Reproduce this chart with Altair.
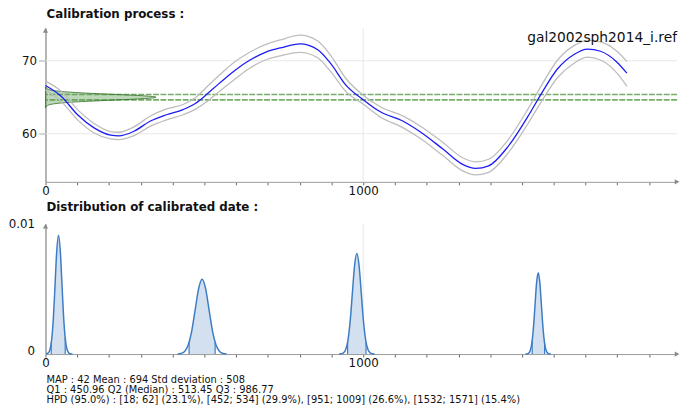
import altair as alt
import pandas as pd

FONT = "DejaVu Sans"

# ---------------- data ----------------
x_ticks = [0, 100, 200, 300, 400, 500, 600, 700, 800, 900, 1000,
           1100, 1200, 1300, 1400, 1500, 1600, 1700, 1800, 1900]
x_domain = [0, 1988]
top_y_domain = [53.4, 74.5]
top_y_ticks = [60, 70]
top_grid_y = [60, 70]
grid_x = [1000]
bottom_y_domain = [0, 0.0103]
bottom_y_ticks = [0, 0.01]

# calibration curve (year, mean, upper, lower)
years = [0, 50, 101, 153, 205, 230, 277, 329, 381, 433, 474, 505, 547, 588, 640,
         692, 743, 801, 857, 898, 945, 1002, 1054, 1126, 1178, 1251, 1313, 1354,
         1395, 1457, 1519, 1561, 1612, 1665, 1706, 1747, 1799, 1830]
curve_mean = [66.6, 65.1, 62.6, 60.8, 59.8, 59.7, 60.3, 61.7, 62.6, 63.3, 64.2, 65.3,
              66.9, 68.4, 70.0, 71.15, 71.8, 72.3, 71.5, 69.6, 66.7, 64.6, 63.0, 61.7,
              60.3, 57.9, 55.8, 55.25, 55.6, 58.3, 62.4, 65.5, 68.9, 70.9, 71.6, 71.3,
              69.8, 68.3]
curve_upper = [67.2, 65.8, 63.3, 61.4, 60.3, 60.2, 60.9, 62.4, 63.4, 64.0, 65.0, 66.3,
               68.0, 69.6, 71.1, 72.2, 72.9, 73.5, 72.7, 70.7, 67.6, 65.2, 63.7, 62.4,
               61.1, 58.8, 56.7, 56.15, 56.5, 59.2, 63.4, 66.6, 70.1, 72.1, 72.8, 72.6,
               71.3, 69.9]
curve_lower = [66.0, 64.4, 61.9, 60.1, 59.3, 59.2, 59.7, 61.0, 61.9, 62.6, 63.4, 64.3,
               65.8, 67.2, 68.9, 70.1, 70.7, 71.15, 70.4, 68.5, 65.8, 64.0, 62.3, 60.8,
               59.4, 57.0, 54.9, 54.35, 54.7, 57.4, 61.4, 64.4, 67.7, 69.7, 70.5, 70.1,
               68.3, 66.5]

# measured reference value (sideways density) and its +/- band
ref_levels = [63.6, 63.8, 64.0, 64.2, 64.4, 64.6, 64.8, 64.9, 65.0, 65.1, 65.2,
              65.4, 65.6, 65.8, 66.0, 66.2, 66.4]
ref_density = [1, 4, 15, 47, 113, 211, 307, 337, 348, 337, 307, 211, 113, 47, 15, 4, 1]
ref_band = [65.38, 64.64]
ref_name = "gal2002sph2014_i.ref"

# calibrated date distribution, four peaks
p1_x = [2, 10, 15, 20, 25, 30, 35, 41, 47, 52, 57, 62, 67, 72, 77, 85]
p1_d = [0.0, 0.00012, 0.00044, 0.00127, 0.00294, 0.00543, 0.00798, 0.0094, 0.00798,
        0.00543, 0.00294, 0.00127, 0.00044, 0.00012, 0.00003, 0.0]
p2_x = [416, 427, 438, 449, 460, 471, 482, 493, 504, 515, 526, 537, 548, 559, 570]
p2_d = [0.00001, 0.00005, 0.00021, 0.0007, 0.00178, 0.00347, 0.00517, 0.00591, 0.00517,
        0.00347, 0.00178, 0.0007, 0.00021, 0.00005, 0.00001]
p3_x = [924, 931, 938, 945, 952, 959, 966, 973, 980, 987, 994, 1001, 1008, 1015, 1022,
        1029, 1036]
p3_d = [0.0, 0.00002, 0.00009, 0.00035, 0.00108, 0.00258, 0.00482, 0.00702, 0.00795,
        0.00702, 0.00482, 0.00258, 0.00108, 0.00035, 0.00009, 0.00002, 0.0]
p4_x = [1511, 1516, 1521, 1526, 1531, 1536, 1541, 1546, 1551, 1556, 1561, 1566, 1571,
        1576, 1581, 1586, 1591]
p4_d = [0.0, 0.00001, 0.00007, 0.00028, 0.00087, 0.00209, 0.0039, 0.00567, 0.00643,
        0.00567, 0.0039, 0.00209, 0.00087, 0.00028, 0.00007, 0.00001, 0.0]
hpd_lo = [18, 452, 951, 1532]
hpd_lo_d = [0.00085, 0.00093, 0.00093, 0.00106]
hpd_hi = [62, 534, 1009, 1571]
hpd_hi_d = [0.00127, 0.00093, 0.00093, 0.00087]

top_title = "Calibration process :"
bottom_title = "Distribution of calibrated date :"
footer_lines = [
    "MAP : 42 Mean : 694 Std deviation : 508",
    "Q1 : 450.96 Q2 (Median) : 513.45 Q3 : 986.77",
    "HPD (95.0%) : [18; 62] (23.1%), [452; 534] (29.9%), [951; 1009] (26.6%), [1532; 1571] (15.4%)",
]

# ---------------- tables ----------------
curve = pd.DataFrame({"year": years, "mean": curve_mean,
                      "upper": curve_upper, "lower": curve_lower})
ref_df = pd.DataFrame({"level": ref_levels, "dens": ref_density})

peaks = [(p1_x, p1_d), (p2_x, p2_d), (p3_x, p3_d), (p4_x, p4_d)]
rows, hpd_rows = [], []
for i, (xs, ds) in enumerate(peaks):
    for xv, dv in zip(xs, ds):
        rows.append({"peak": i, "x": xv, "d": dv})
    hpd_rows.append({"peak": i, "x": hpd_lo[i], "d": hpd_lo_d[i]})
    for xv, dv in zip(xs, ds):
        if hpd_lo[i] < xv < hpd_hi[i]:
            hpd_rows.append({"peak": i, "x": xv, "d": dv})
    hpd_rows.append({"peak": i, "x": hpd_hi[i], "d": hpd_hi_d[i]})
dist_df = pd.DataFrame(rows)
hpd_df = pd.DataFrame(hpd_rows)
bounds_df = pd.DataFrame({"x": hpd_lo + hpd_hi, "d": hpd_lo_d + hpd_hi_d})

# ---------------- styling ----------------
AXIS_COLOR = "#9a9a9a"
GRID_COLOR = "#e8e8e8"
W = 640
H_TOP = 156
H_BOT = 132

x_scale = alt.Scale(domain=x_domain, nice=False, zero=False)
ty_scale = alt.Scale(domain=top_y_domain, nice=False, zero=False)
by_scale = alt.Scale(domain=bottom_y_domain, nice=False, zero=False)

x_axis = alt.Axis(values=x_ticks, format="d", title=None, grid=False,
                  labelExpr="(datum.value == 0 || datum.value == 1000) ? datum.label : ''",
                  tickSize=3, labelPadding=1, domainColor=AXIS_COLOR, tickColor="#666",
                  labelFont=FONT, labelFontSize=12, labelColor="#111", labelFlush=False)
ty_axis = alt.Axis(values=top_y_ticks, title=None, grid=False, tickSize=7, labelPadding=2,
                   domainColor=AXIS_COLOR, domainWidth=1.5, tickColor="#aaa",
                   labelFont=FONT, labelFontSize=12, labelColor="#111")
by_axis = alt.Axis(values=bottom_y_ticks, title=None, grid=False, tickSize=0,
                   labelPadding=11, labelOffset=-4, format="~g",
                   domainColor=AXIS_COLOR, domainWidth=1.5,
                   labelFont=FONT, labelFontSize=12, labelColor="#111")

X = lambda f: alt.X(f, scale=x_scale, axis=x_axis)
TY = lambda f: alt.Y(f, scale=ty_scale, axis=ty_axis)
BY = lambda f: alt.Y(f, scale=by_scale, axis=by_axis, stack=None)


def text_layer(txt, x, y, size, weight="normal", align="left", baseline="middle"):
    return alt.Chart(pd.DataFrame({"t": [txt]})).mark_text(
        align=align, baseline=baseline, font=FONT, fontSize=size, fontWeight=weight,
        color="#111").encode(text="t:N", x=alt.value(x), y=alt.value(y))


# ---------------- top chart ----------------
t_grid_h = alt.Chart(pd.DataFrame({"v": top_grid_y})).mark_rule(
    color=GRID_COLOR, strokeWidth=1).encode(y=TY("v:Q"))
t_grid_v = alt.Chart(pd.DataFrame({"v": grid_x})).mark_rule(
    color=GRID_COLOR, strokeWidth=1).encode(x=X("v:Q"))
t_band = alt.Chart(pd.DataFrame({"v": ref_band})).mark_rule(
    color="#76ad68", strokeWidth=1.6, strokeDash=[6, 1.5]).encode(y=TY("v:Q"))
t_ref = alt.Chart(ref_df).mark_area(
    orient="horizontal", interpolate="monotone", fill="#5a9a50", fillOpacity=0.4,
    stroke="#2f6e26", strokeWidth=0.8).encode(x=X("dens:Q"), y=TY("level:Q"))
t_up = alt.Chart(curve).mark_line(color="#bdbdbd", strokeWidth=1.3,
                                  interpolate="monotone").encode(x=X("year:Q"), y=TY("upper:Q"))
t_lo = alt.Chart(curve).mark_line(color="#bdbdbd", strokeWidth=1.3,
                                  interpolate="monotone").encode(x=X("year:Q"), y=TY("lower:Q"))
t_mean = alt.Chart(curve).mark_line(color="#1c1cf5", strokeWidth=1.3,
                                    interpolate="monotone").encode(x=X("year:Q"), y=TY("mean:Q"))
t_label = text_layer(ref_name, 640, 10, 14, align="right")
t_title = text_layer(top_title, 1, -19.3, 12, weight="bold", baseline="top")
t_arrow_y = alt.Chart(pd.DataFrame({"a": [0]})).mark_point(
    shape="triangle-up", filled=True, size=28, color="#8a8a8a", opacity=1).encode(
    x=alt.value(0), y=alt.value(2.5))
t_arrow_x = alt.Chart(pd.DataFrame({"a": [0]})).mark_point(
    shape="triangle-right", filled=True, size=28, color="#8a8a8a", opacity=1).encode(
    x=alt.value(W), y=alt.value(H_TOP))

top = alt.layer(t_grid_h, t_grid_v, t_band, t_ref, t_up, t_lo, t_mean, t_label, t_title,
                t_arrow_y, t_arrow_x).properties(width=W, height=H_TOP)

# ---------------- bottom chart ----------------
b_grid_v = alt.Chart(pd.DataFrame({"v": grid_x})).mark_rule(
    color=GRID_COLOR, strokeWidth=1).encode(x=X("v:Q"))
b_fill = alt.Chart(hpd_df).mark_area(interpolate="monotone", color="#d3e0f0",
                                     opacity=1).encode(
    x=X("x:Q"), y=BY("d:Q"), detail="peak:N")
b_bounds = alt.Chart(bounds_df).mark_rule(color="#3d7cc4", strokeWidth=1.2).encode(
    x=X("x:Q"), y=BY("d:Q"), y2=alt.datum(0))
b_line = alt.Chart(dist_df).mark_line(interpolate="monotone", color="#3d7cc4",
                                      strokeWidth=1.5).encode(
    x=X("x:Q"), y=BY("d:Q"), detail="peak:N")
b_title = text_layer(bottom_title, 1, -22, 12, weight="bold", baseline="top")
b_arrow_y = alt.Chart(pd.DataFrame({"a": [0]})).mark_point(
    shape="triangle-up", filled=True, size=28, color="#8a8a8a", opacity=1).encode(
    x=alt.value(0), y=alt.value(2.5))
b_arrow_x = alt.Chart(pd.DataFrame({"a": [0]})).mark_point(
    shape="triangle-right", filled=True, size=28, color="#8a8a8a", opacity=1).encode(
    x=alt.value(W), y=alt.value(H_BOT))

footer_layers = [text_layer(line, 1, H_BOT + 26 + i * 10.5, 10)
                 for i, line in enumerate(footer_lines)]

bottom = alt.layer(b_grid_v, b_fill, b_bounds, b_line, b_title, b_arrow_y, b_arrow_x,
                   *footer_layers).properties(width=W, height=H_BOT)

chart = alt.vconcat(top, bottom, spacing=4.5).properties(
    padding={"left": 0, "top": -3.5, "right": 0, "bottom": 0}
).configure_view(stroke=None).configure_axisY(minExtent=36, maxExtent=36)

chart.save("out.html", embed_options={"renderer": "svg", "actions": False})
